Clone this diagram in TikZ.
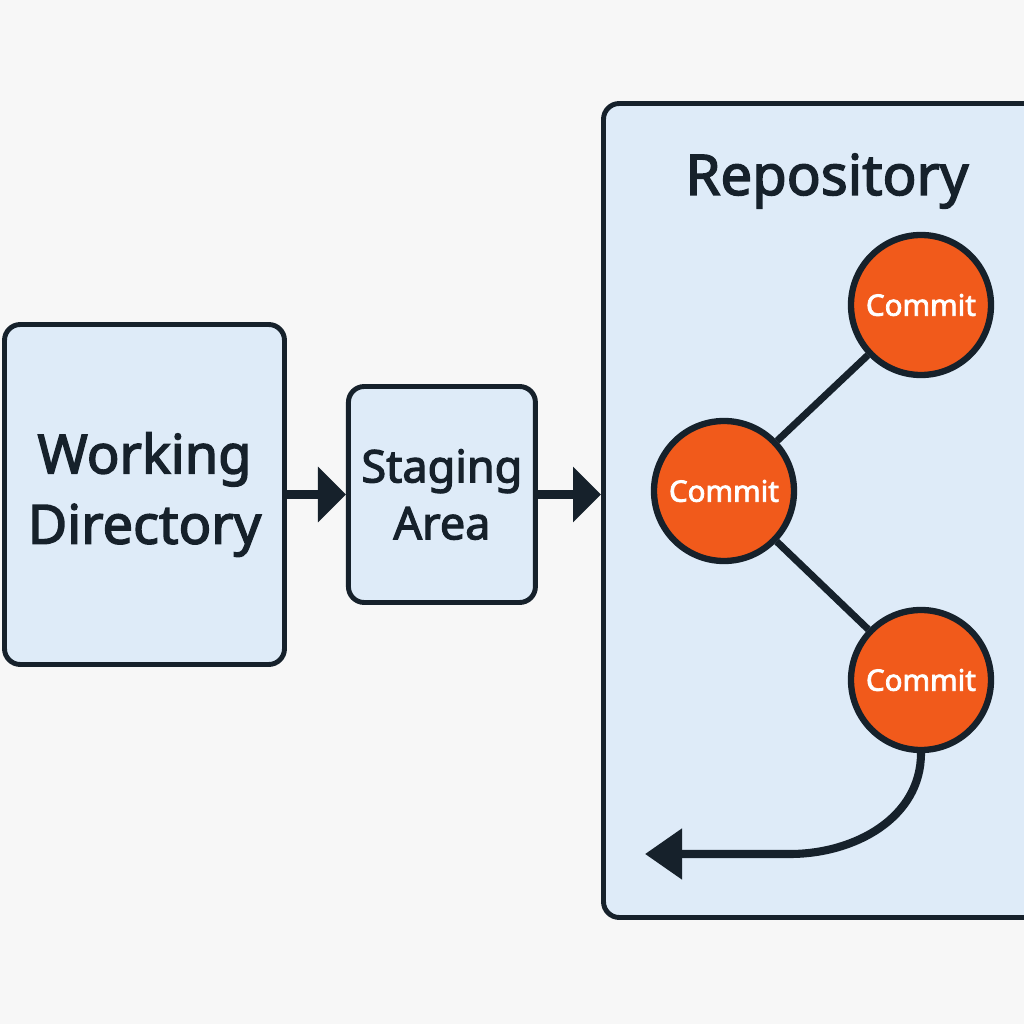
\documentclass[tikz,border=0pt]{standalone}
\usepackage{fontspec}
\setmainfont{Noto Sans}[FakeBold=2.6]
\usepackage{tikz}
\usetikzlibrary{positioning, arrows.meta}
\definecolor{ink}{HTML}{16212B}
\definecolor{panel}{HTML}{DEEBF8}
\definecolor{commitfill}{HTML}{F15A1B}
\definecolor{canvas}{HTML}{F7F7F7}
\tikzset{
  area/.style    = {rectangle, rounded corners=4.5pt, draw=ink, line width=1.4pt,
                    fill=panel, align=center, text=ink, inner sep=0pt},
  commit/.style  = {circle, draw=ink, line width=1.8pt, fill=commitfill,
                    minimum size=1.40cm, inner sep=0pt, text=white,
                    font=\fontsize{8.4}{10}\selectfont},
  link/.style    = {line width=2pt, draw=ink},
  ar/.style      = {-{Triangle[length=0.28cm,width=0.54cm]}, line width=2.3pt, draw=ink},
  backar/.style  = {-{Triangle[length=0.37cm,width=0.49cm]}, line width=2.3pt, draw=ink},
}
\begin{document}
\begin{tikzpicture}[node distance=0.59cm]

  \useasboundingbox (0,0) rectangle (10.24,10.24);
  \clip (0,0) rectangle (10.24,10.24);
  \fill[canvas] (0,0) rectangle (10.24,10.24);

  \node[area, minimum width=2.80cm, minimum height=3.40cm,
        font=\fontsize{15.4}{20}\selectfont] (work) at (1.445,5.295) {Working\\Directory};
  \node[area, minimum width=1.87cm, minimum height=2.16cm,
        font=\fontsize{12.8}{16.2}\selectfont, right=of work] (stage) {Staging\\Area};
  \node[area, minimum width=5cm, minimum height=8.14cm] (repo) at (8.535,5.135) {};
  \node[text=ink, font=\fontsize{16}{19}\selectfont] (title) at (8.27,8.43) {Repository};

  \node[commit] (c2) at (7.24,5.33) {Commit};
  \node[commit] (c1) at (9.21,7.19) {Commit};
  \node[commit] (c3) at (9.21,3.44) {Commit};

  \draw[link] (c2) -- (c1);
  \draw[link] (c2) -- (c3);

  \draw[ar] (work) -- (stage);
  \draw[ar] (stage.east) -- (stage.east -| repo.west);

  \coordinate (turn) at (7.9,1.70);
  \coordinate (back) at (6.45,1.70);
  \draw[backar] (c3.south) to[out=-90, in=0] (turn) -- (back);

\end{tikzpicture}
\end{document}
